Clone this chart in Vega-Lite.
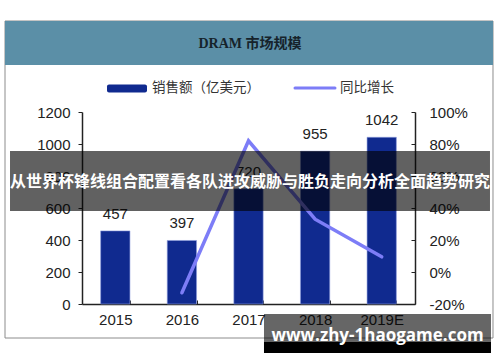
{
  "$schema": "https://vega.github.io/schema/vega-lite/v6.json",
  "width": 333,
  "height": 192,
  "autosize": {"type": "none"},
  "padding": {"left": 82, "top": 112, "right": 85, "bottom": 58},
  "background": "white",
  "config": {"view": {"stroke": null}, "font": "Liberation Sans"},
  "layer": [
    {
      "data": {"values": [{}]},
      "encoding": {
        "x": {"type": "quantitative", "scale": {"domain": [0, 1], "nice": false}, "axis": null},
        "y": {"type": "quantitative", "scale": {"domain": [0, 1], "nice": false}, "axis": null}
      },
      "layer": [
        {
          "mark": {"type": "rect", "fill": null, "fillOpacity": 0, "stroke": "#8c8c8c", "strokeWidth": 1},
          "encoding": {
            "x": {"datum": -0.2312, "type": "quantitative"}, "x2": {"datum": 1.2342},
            "y": {"datum": 1.474, "type": "quantitative"}, "y2": {"datum": -0.1771}
          }
        },
        {
          "mark": {"type": "rect", "fill": "#5b8fa7"},
          "encoding": {
            "x": {"datum": -0.2312, "type": "quantitative"}, "x2": {"datum": 1.2342},
            "y": {"datum": 1.474, "type": "quantitative"}, "y2": {"datum": 1.2448}
          }
        },
        {
          "mark": {"type": "text", "text": "DRAM  市场规模", "fontSize": 14, "fontWeight": "bold", "font": "Liberation Serif, Noto Sans CJK SC", "color": "#16232b", "align": "center", "baseline": "middle"},
          "encoding": {"x": {"datum": 0.5045, "type": "quantitative"}, "y": {"datum": 1.3542, "type": "quantitative"}}
        },
        {
          "mark": {"type": "rect", "fill": "#102a8f", "cornerRadius": 2},
          "encoding": {
            "x": {"datum": 0.0751, "type": "quantitative"}, "x2": {"datum": 0.1952},
            "y": {"datum": 1.1432, "type": "quantitative"}, "y2": {"datum": 1.1016}
          }
        },
        {
          "mark": {"type": "text", "text": "销售额（亿美元）", "fontSize": 13.5, "font": "Noto Sans CJK SC", "color": "#333333", "align": "left", "baseline": "middle"},
          "encoding": {"x": {"datum": 0.2102, "type": "quantitative"}, "y": {"datum": 1.125, "type": "quantitative"}}
        },
        {
          "mark": {"type": "rule", "stroke": "#7d7df7", "strokeWidth": 3, "strokeCap": "round"},
          "encoding": {
            "x": {"datum": 0.6396, "type": "quantitative"}, "x2": {"datum": 0.7598},
            "y": {"datum": 1.125, "type": "quantitative"}
          }
        },
        {
          "mark": {"type": "text", "text": "同比增长", "fontSize": 13.5, "font": "Noto Sans CJK SC", "color": "#333333", "align": "left", "baseline": "middle"},
          "encoding": {"x": {"datum": 0.7748, "type": "quantitative"}, "y": {"datum": 1.125, "type": "quantitative"}}
        }
      ]
    },
    {
      "data": {"values": [
        {"year": "2015", "sales": 457, "growth": null},
        {"year": "2016", "sales": 397, "growth": -13},
        {"year": "2017", "sales": 720, "growth": 82},
        {"year": "2018", "sales": 955, "growth": 33},
        {"year": "2019E", "sales": 1042, "growth": 9.5}
      ]},
      "encoding": {
        "x": {
          "field": "year", "type": "nominal", "sort": null,
          "scale": {"paddingInner": 0.56, "paddingOuter": 0.28},
          "axis": {"title": null, "labelAngle": 0, "tickBand": "extent", "tickSize": -4, "tickColor": "#222222", "domainColor": "#222222", "domainWidth": 1.5, "labelFontSize": 15, "labelColor": "#222222", "labelPadding": 12, "labelFont": "Liberation Sans"}
        }
      },
      "layer": [
        {
          "encoding": {
            "y": {"field": "sales", "type": "quantitative", "scale": {"domain": [0, 1200], "nice": false},
              "axis": {"orient": "left", "title": null, "grid": false, "values": [0, 200, 400, 600, 800, 1000, 1200], "format": "d", "labelOverlap": false, "labelFlush": false, "domainColor": "#222222", "domainWidth": 1.5, "tickColor": "#222222", "tickSize": 4, "labelFontSize": 15, "labelColor": "#222222", "labelPadding": 8, "labelFont": "Liberation Sans"}}
          },
          "layer": [
            {
              "mark": {"type": "bar", "color": "#102a8f", "stroke": "#8f9ddd", "strokeWidth": 0.6}
            },
            {
              "mark": {"type": "text", "dy": -9, "baseline": "bottom", "fontSize": 15, "font": "Liberation Sans", "color": "#222222"},
              "encoding": {
                "text": {"field": "sales", "type": "quantitative", "format": "d"}
              }
            }
          ]
        },
        {
          "transform": [{"filter": "datum.growth != null"}],
          "mark": {"type": "line", "color": "#7d7df7", "strokeWidth": 3.5, "strokeCap": "round"},
          "encoding": {
            "y": {"field": "growth", "type": "quantitative", "scale": {"domain": [-20, 100], "nice": false, "zero": false},
              "axis": {"orient": "right", "title": null, "grid": false, "values": [-20, 0, 20, 40, 60, 80, 100], "labelExpr": "datum.value + '%'", "labelOverlap": false, "labelFlush": false, "domainColor": "#222222", "domainWidth": 1.5, "tickColor": "#222222", "tickSize": -4, "labelFontSize": 15, "labelColor": "#222222", "labelPadding": 18, "labelFont": "Liberation Sans"}}
          }
        }
      ],
      "resolve": {"scale": {"y": "independent"}}
    },
    {
      "data": {"values": [{}]},
      "encoding": {
        "x": {"type": "quantitative", "scale": {"domain": [0, 1], "nice": false}, "axis": null},
        "y": {"type": "quantitative", "scale": {"domain": [0, 1], "nice": false}, "axis": null}
      },
      "layer": [
        {
          "mark": {"type": "rect", "fill": "black", "opacity": 0.62},
          "encoding": {
            "x": {"datum": -0.2162, "type": "quantitative"}, "x2": {"datum": 1.2252},
            "y": {"datum": 0.7969, "type": "quantitative"}, "y2": {"datum": 0.4844}
          }
        },
        {
          "mark": {"type": "text", "text": "从世界杯锋线组合配置看各队进攻威胁与胜负走向分析全面趋势研究", "fontSize": 16, "fontWeight": "bold", "font": "Noto Sans CJK SC", "color": "white", "align": "center", "baseline": "middle"},
          "encoding": {"x": {"datum": 0.5045, "type": "quantitative"}, "y": {"datum": 0.6354, "type": "quantitative"}}
        },
        {
          "mark": {"type": "rect", "fill": "black", "opacity": 0.6},
          "encoding": {
            "x": {"datum": 0.5465, "type": "quantitative"}, "x2": {"datum": 1.2282},
            "y": {"datum": -0.0521, "type": "quantitative"}, "y2": {"datum": -0.1979}
          }
        },
        {
          "mark": {"type": "rect", "fill": "black"},
          "encoding": {
            "x": {"datum": 0.5465, "type": "quantitative"}, "x2": {"datum": 1.2282},
            "y": {"datum": -0.1979, "type": "quantitative"}, "y2": {"datum": -0.2552}
          }
        },
        {
          "mark": {"type": "text", "text": "www.zhy-1haogame.com", "fontSize": 17, "fontWeight": "bold", "font": "Open Sans", "color": "white", "align": "center", "baseline": "middle"},
          "encoding": {"x": {"datum": 0.8874, "type": "quantitative"}, "y": {"datum": -0.1667, "type": "quantitative"}}
        }
      ]
    }
  ],
  "resolve": {"scale": {"x": "independent", "y": "independent"}}
}
